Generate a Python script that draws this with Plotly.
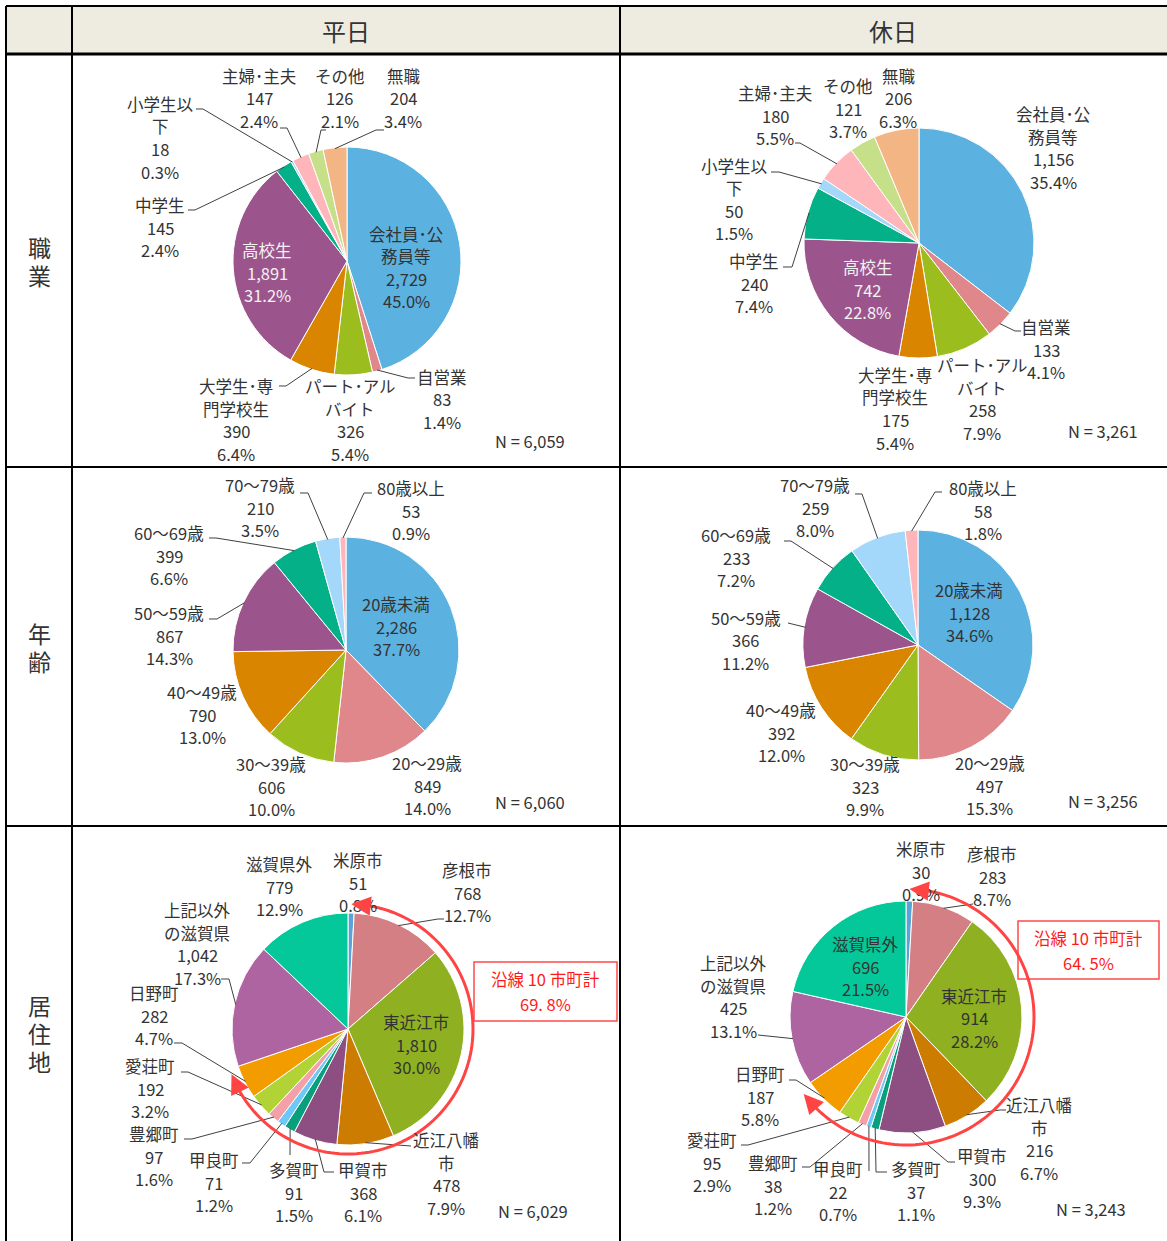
import math
import plotly.graph_objects as go

W, H = 1167, 1241
FONT = "Noto Sans CJK JP"
TXT = "#333333"

# ---------------- data ----------------
col_headers = ["平日", "休日"]
row_headers = ["職業", "年齢", "居住地"]

occ_labels = ["会社員･公務員等", "自営業", "パート･アルバイト", "大学生･専門学校生", "高校生",
              "中学生", "小学生以下", "主婦･主夫", "その他", "無職"]
occ_weekday = [2729, 83, 326, 390, 1891, 145, 18, 147, 126, 204]
occ_weekday_pct = [45.0, 1.4, 5.4, 6.4, 31.2, 2.4, 0.3, 2.4, 2.1, 3.4]
occ_holiday = [1156, 133, 258, 175, 742, 240, 50, 180, 121, 206]
occ_holiday_pct = [35.4, 4.1, 7.9, 5.4, 22.8, 7.4, 1.5, 5.5, 3.7, 6.3]

age_labels = ["20歳未満", "20～29歳", "30～39歳", "40～49歳", "50～59歳", "60～69歳", "70～79歳", "80歳以上"]
age_weekday = [2286, 849, 606, 790, 867, 399, 210, 53]
age_weekday_pct = [37.7, 14.0, 10.0, 13.0, 14.3, 6.6, 3.5, 0.9]
age_holiday = [1128, 497, 323, 392, 366, 233, 259, 58]
age_holiday_pct = [34.6, 15.3, 9.9, 12.0, 11.2, 7.2, 8.0, 1.8]

res_labels = ["米原市", "彦根市", "東近江市", "近江八幡市", "甲賀市", "多賀町", "甲良町", "豊郷町",
              "愛荘町", "日野町", "上記以外の滋賀県", "滋賀県外"]
res_weekday = [51, 768, 1810, 478, 368, 91, 71, 97, 192, 282, 1042, 779]
res_weekday_pct = [0.8, 12.7, 30.0, 7.9, 6.1, 1.5, 1.2, 1.6, 3.2, 4.7, 17.3, 12.9]
res_holiday = [30, 283, 914, 216, 300, 37, 22, 38, 95, 187, 425, 696]
res_holiday_pct = [0.9, 8.7, 28.2, 6.7, 9.3, 1.1, 0.7, 1.2, 2.9, 5.8, 13.1, 21.5]

n_totals = ["6,059", "3,261", "6,060", "3,256", "6,029", "3,243"]
route_count = 10
route_title = "沿線 10 市町計"
route_share_text = ["69. 8%", "64. 5%"]

label_wrap = {
    "会社員･公務員等": ["会社員･公", "務員等"],
    "パート･アルバイト": ["パート･アル", "バイト"],
    "大学生･専門学校生": ["大学生･専", "門学校生"],
    "小学生以下": ["小学生以", "下"],
    "近江八幡市": ["近江八幡", "市"],
    "上記以外の滋賀県": ["上記以外", "の滋賀県"],
}

# ---------------- styles ----------------
occ_colors = ["#5BB1E0", "#E0878C", "#9BBE1E", "#D98500", "#9B558C", "#04B088",
              "#A3D8FA", "#FFB6BB", "#C6E08A", "#F4B585"]
age_colors = ["#5BB1E0", "#E0878C", "#9BBE1E", "#D98500", "#9B558C", "#04B088",
              "#A3D8FA", "#FFB6BB"]
res_colors = ["#5AA3D6", "#D47F84", "#8EB021", "#CC7C00", "#8D4F82", "#0A9F7C",
              "#6CC9F7", "#F4A0A8", "#B2D335", "#F39C00", "#AE64A0", "#05C89A"]

# layout of each panel: pie centre/radius (px), label position (x, first-line y, style) and leader elbows
panels = [
    dict(labels=occ_labels, values=occ_weekday, pct=occ_weekday_pct, colors=occ_colors,
         c=(347, 261), r=114, n_xy=(530, 441),
         pos=[(406, 234, "in"), (442, 377, "out"), (350, 386, "out"), (236, 386, "out"),
              (267, 250, "inw"), (160, 205, "out"), (160, 104, "out"), (259, 76, "out"),
              (340, 76, "out"), (403, 76, "out")],
         lead=[None, [(408, 378), (415, 378)], None, [(286, 386), (279, 386)], None,
               [(195, 210), (188, 210)], [(203, 109), (196, 109)], [(287, 128), (280, 128)],
               [(321, 130), (326, 130)], [(376, 130), (384, 130)]]),
    dict(labels=occ_labels, values=occ_holiday, pct=occ_holiday_pct, colors=occ_colors,
         c=(919, 243), r=115, n_xy=(1103, 431),
         pos=[(1053, 114, "out"), (1046, 327, "out"), (982, 365, "out"), (895, 375, "out"),
              (868, 267, "inw"), (754, 261, "out"), (734, 166, "out"), (775, 93, "out"),
              (848, 86, "out"), (898, 76, "out")],
         lead=[None, [(1015, 331), (1021, 331)], None, None, None,
               [(792, 267), (783, 267)], [(779, 172), (771, 172)], [(800, 143), (795, 143)],
               None, None]),
    dict(labels=age_labels, values=age_weekday, pct=age_weekday_pct, colors=age_colors,
         c=(346, 650), r=113, n_xy=(530, 802),
         pos=[(396, 604, "in"), (427, 763, "out"), (271, 764, "out"), (202, 692, "out"),
              (169, 613, "out"), (169, 533, "out"), (260, 485, "out"), (411, 488, "out")],
         lead=[None, None, None, None, [(217, 619), (209, 619)], [(216, 538), (209, 538)],
               [(308, 493), (300, 493)], [(364, 493), (372, 493)]]),
    dict(labels=age_labels, values=age_holiday, pct=age_holiday_pct, colors=age_colors,
         c=(918, 645), r=115, n_xy=(1103, 801),
         pos=[(969, 590, "in"), (990, 763, "out"), (865, 764, "out"), (781, 710, "out"),
              (746, 618, "out"), (736, 535, "out"), (815, 485, "out"), (983, 488, "out")],
         lead=[None, None, None, None, [(788, 623)], [(791, 541), (784, 541)],
               [(862, 494), (855, 494)], [(935, 492), (942, 492)]]),
    dict(labels=res_labels, values=res_weekday, pct=res_weekday_pct, colors=res_colors,
         c=(348, 1029), r=116, n_xy=(533, 1211), box=(474, 962, 617, 1021), arc_pad=9,
         pos=[(358, 860, "out"), (467, 870, "out"), (416, 1022, "in"), (446, 1140, "out"),
              (363, 1170, "out"), (294, 1170, "out"), (214, 1160, "out"), (154, 1134, "out"),
              (150, 1066, "out"), (154, 993, "out"), (197, 910, "out"), (279, 864, "out")],
         lead=[None, [(438, 919), (444, 919)], None, [(411, 1146)],
               [(324, 1172), (334, 1172)], [(290, 1155)], [(250, 1163), (242, 1163)],
               [(192, 1139), (184, 1139)], [(188, 1072), (181, 1072)],
               [(182, 1043), (174, 1043)], [(229, 979), (221, 979)], None]),
    dict(labels=res_labels, values=res_holiday, pct=res_holiday_pct, colors=res_colors,
         c=(906, 1017), r=116, n_xy=(1091, 1209), box=(1018, 921, 1159, 979), arc_pad=12,
         pos=[(921, 849, "out"), (992, 854, "out"), (974, 996, "in"), (1039, 1105, "out"),
              (982, 1156, "out"), (916, 1169, "out"), (838, 1169, "out"), (773, 1163, "out"),
              (712, 1140, "out"), (760, 1074, "out"), (733, 963, "out"), (865, 944, "in")],
         lead=[None, [(973, 904)], None, [(1000, 1110), (1006, 1110)],
               [(948, 1162), (955, 1162)], [(876, 1172), (887, 1172)], [(869, 1171)],
               [(810, 1167), (802, 1167)], [(748, 1145), (741, 1145)],
               [(796, 1080), (789, 1080)], [(758, 1035)], None]),
]

LINE_H = 22.5
LABEL_SIZE = 16.5


def px(x):
    return x / W


def py(y):
    return 1 - y / H


annotations = []
shapes = []


def add_text(x, y, text, size=LABEL_SIZE, color=TXT):
    annotations.append(dict(x=px(x), y=py(y), xref="paper", yref="paper", text=text,
                            showarrow=False, xanchor="center", yanchor="middle",
                            font=dict(family=FONT, size=size, color=color)))


def add_path(pts, color="#404040", width=1):
    d = "M " + " L ".join(f"{px(a):.6f},{py(b):.6f}" for a, b in pts)
    shapes.append(dict(type="path", xref="paper", yref="paper", path=d,
                       line=dict(color=color, width=width), layer="above"))


def add_line(x0, y0, x1, y1, color="#000000", width=2):
    shapes.append(dict(type="line", xref="paper", yref="paper", x0=px(x0), y0=py(y0),
                       x1=px(x1), y1=py(y1), line=dict(color=color, width=width), layer="above"))


def point_on(c, R, deg):
    t = math.radians(deg)
    return (c[0] + R * math.sin(t), c[1] - R * math.cos(t))


# ---------------- table frame ----------------
shapes.append(dict(type="rect", xref="paper", yref="paper", x0=px(6), y0=py(6), x1=px(1167),
                   y1=py(54), fillcolor="#EEEBE0", line=dict(width=0), layer="below"))
add_text(346, 31, col_headers[0], size=24)
add_text(893, 31, col_headers[1], size=24)
row_centres = [261, 647, 1033]
for name, yc in zip(row_headers, row_centres):
    n = len(name)
    for i, ch in enumerate(name):
        add_text(39, yc + (i - (n - 1) / 2) * 28, ch, size=23)

fig = go.Figure()

for k, p in enumerate(panels):
    cx, cy = p["c"]
    r = p["r"]
    fig.add_trace(go.Pie(
        labels=p["labels"], values=p["values"], sort=False, direction="clockwise", rotation=0,
        marker=dict(colors=p["colors"], line=dict(color="white", width=1)),
        textinfo="none", hoverinfo="label+value+percent", showlegend=False,
        domain=dict(x=[px(cx - r), px(cx + r)], y=[py(cy + r), py(cy - r)]),
    ))
    total = sum(p["values"])
    cum = 0
    for i, (lab, v, pc) in enumerate(zip(p["labels"], p["values"], p["pct"])):
        mid = (cum + v / 2) / total * 360
        cum += v
        x, y0, style = p["pos"][i]
        lines = label_wrap.get(lab, [lab]) + [f"{v:,}", f"{pc:.1f}%"]
        color = "#F2F2F2" if style == "inw" else TXT
        for j, t in enumerate(lines):
            add_text(x, y0 + j * LINE_H, t, color=color)
        if p["lead"][i]:
            start = point_on((cx, cy), r - 1, mid)
            add_path([start] + p["lead"][i])
    add_text(p["n_xy"][0], p["n_xy"][1], f"N = {n_totals[k]}")

    if "box" in p:
        bx0, by0, bx1, by1 = p["box"]
        shapes.append(dict(type="rect", xref="paper", yref="paper", x0=px(bx0), y0=py(by0),
                           x1=px(bx1), y1=py(by1), fillcolor="white",
                           line=dict(color="#FF4A4A", width=1.5), layer="above"))
        bxc = (bx0 + bx1) / 2
        add_text(bxc, by0 + 17, route_title, color="#FF1A1A")
        add_text(bxc, by0 + 42, route_share_text[k - 4], color="#FF1A1A")
        # red arc covering the route municipalities
        R = r + p["arc_pad"]
        share_deg = sum(p["values"][:route_count]) / total * 360
        a0, a1 = 1.5, share_deg - 2.5
        steps = 120
        arc = [point_on((cx, cy), R, a0 + 6 + (a1 - 6 - a0 - 6) * s / steps) for s in range(steps + 1)]
        add_path(arc, color="#FF4444", width=3)
        for tip_deg, tail_deg in [(a0, a0 + 9), (a1, a1 - 9)]:
            tx, ty = point_on((cx, cy), R, tip_deg)
            sx, sy = point_on((cx, cy), R, tail_deg)
            annotations.append(dict(x=px(tx), y=py(ty), xref="paper", yref="paper", text="",
                                    showarrow=True, ax=sx - tx, ay=sy - ty, arrowhead=2,
                                    arrowsize=1.3, arrowwidth=3, arrowcolor="#FF4444"))

# grid lines
add_line(6, 6, 1167, 6)
add_line(6, 54, 1167, 54, width=3)
add_line(6, 467, 1167, 467)
add_line(6, 826, 1167, 826)
add_line(6, 6, 6, 1241)
add_line(72, 6, 72, 1241)
add_line(620, 6, 620, 1241)

fig.update_layout(width=W, height=H, autosize=False, margin=dict(l=0, r=0, t=0, b=0),
                  paper_bgcolor="white", plot_bgcolor="white", showlegend=False,
                  annotations=annotations, shapes=shapes,
                  font=dict(family=FONT, color=TXT))

fig.write_html("out.html", config={"displayModeBar": False},
               post_script="document.body.style.margin='0';document.body.style.overflow='hidden';")
